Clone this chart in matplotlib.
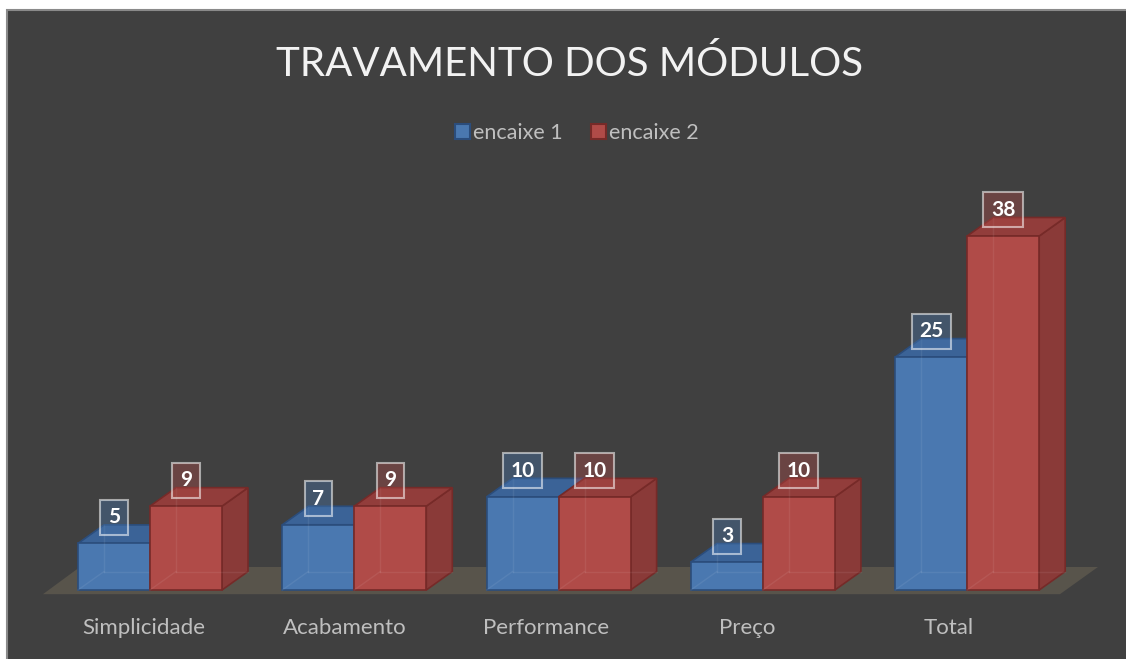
import matplotlib
matplotlib.use("Agg")
import matplotlib.pyplot as plt
from matplotlib.patches import Polygon, Rectangle, Patch
import numpy as np

plt.rcParams['font.family'] = ['Lato', 'DejaVu Sans']

categories = ['Simplicidade', 'Acabamento', 'Performance', 'Preço', 'Total']
encaixe_1 = [5, 7, 10, 3, 25]
encaixe_2 = [9, 9, 10, 10, 38]
series_names = ['encaixe 1', 'encaixe 2']

# front / top / side / edge colours for each series
blue = dict(front='#4a78b0', top='#3b6397', side='#34598a', edge='#2b4d7c')
red = dict(front='#b04b48', top='#923d3b', side='#8a3a38', edge='#762a28')

W, H = 1126, 659
fig = plt.figure(figsize=(W / 100, H / 100), dpi=100, facecolor='white')

# chart area with a thin grey frame (runs past the right and bottom edges)
fig.patches.append(Rectangle((7 / W, -0.05), 1.1, 1.05 - 10 / H, transform=fig.transFigure,
                             facecolor='#404040', edgecolor='#8a8a8a', linewidth=1.5, zorder=-5))

ax = fig.add_axes([0, 0, 1, 1])
ax.set_facecolor('none')
ax.axis('off')

# pixel based scales: one category = 204.3 px, one value unit = 9.316 px
px_x, px_y = 204.3, 9.316
x0_px, base_px = 150, 590
ax.set_xlim(-x0_px / px_x, (W - x0_px) / px_x)
ax.set_ylim(-(H - base_px) / px_y, base_px / px_y)

bar_w = 72 / px_x
dx, dy = 26 / px_x, 18.5 / px_y

# floor
floor = Polygon([(-0.524, -0.45), (4.454, -0.45), (4.640, 2.47), (-0.343, 2.47)],
                closed=True, facecolor='#58544b', edgecolor='none', zorder=1)
ax.add_patch(floor)


def draw_box(left, value, c, z):
    right = left + bar_w
    side = Polygon([(right, 0), (right, value), (right + dx, value + dy), (right + dx, dy)],
                   facecolor=c['side'], edgecolor=c['edge'], linewidth=1.2, zorder=z)
    top = Polygon([(left, value), (right, value), (right + dx, value + dy), (left + dx, value + dy)],
                  facecolor=c['top'], edgecolor=c['edge'], linewidth=1.2, zorder=z)
    ax.add_patch(side)
    ax.add_patch(top)
    ax.bar(left, value, width=bar_w, align='edge', color=c['front'], edgecolor=c['edge'],
           linewidth=1.2, zorder=z + 0.1)
    # faint hidden back edges seen through the box
    kw = dict(color='white', alpha=0.07, linewidth=1.0, zorder=z + 0.2)
    ax.plot([left + dx, left + dx], [dy, value + dy * 0.98], **kw)
    ax.plot([left + dx, right + dx], [dy, dy], **kw)
    ax.plot([left, left + dx], [0, dy], **kw)


x = np.arange(len(categories))
for i in x:
    z = 2 + i
    draw_box(i - bar_w, encaixe_1[i], blue, z)
    draw_box(i, encaixe_2[i], red, z + 0.4)

# value labels
for i in x:
    for left, v, c in [(i - bar_w, encaixe_1[i], blue), (i, encaixe_2[i], red)]:
        ax.text(left + bar_w / 2, v + 26 / px_y, str(v), ha='center', va='center',
                fontsize=15, fontweight='bold', color='white', zorder=20,
                bbox=dict(boxstyle='square,pad=0.36', facecolor=c['front'] + '60',
                          edgecolor=(1, 1, 1, 0.55), linewidth=1.5))

# category labels
for i, name in enumerate(categories):
    ax.text(i - 0.03 - 0.015 * i, -38 / px_y, name, ha='center', va='center',
            fontsize=16, color='#bfbfbf', zorder=20)

fig.text(0.506, 1 - 64 / H, 'TRAVAMENTO DOS MÓDULOS', ha='center', va='center',
         fontsize=29, color='#f2f2f2')

handles = [Patch(facecolor=blue['front'], edgecolor=blue['edge'], linewidth=1.5),
           Patch(facecolor=red['front'], edgecolor=red['edge'], linewidth=1.5)]
leg = fig.legend(handles, series_names, loc='center', bbox_to_anchor=(0.512, 1 - 133 / H),
                 ncol=2, frameon=False, fontsize=15.5, handlelength=0.7, handleheight=0.7,
                 handletextpad=0.15, columnspacing=1.3, borderaxespad=0)
for t in leg.get_texts():
    t.set_color('#bfbfbf')

fig.savefig('out.png', dpi=100, facecolor='white')
